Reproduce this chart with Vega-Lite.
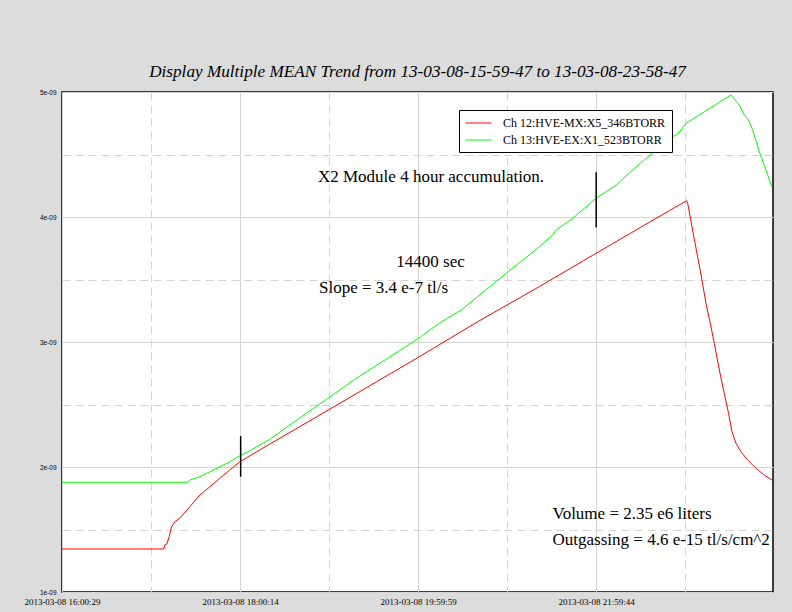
{
  "$schema": "https://vega.github.io/schema/vega-lite/v6.json",
  "width": 711,
  "height": 500,
  "autosize": "none",
  "padding": {"left": 62, "top": 92, "right": 19, "bottom": 20},
  "background": "#dcdcdc",
  "config": {"view": {"fill": "white", "stroke": "black", "strokeWidth": 1.5}, "font": "Liberation Serif"},
  "title": {"text": "Display Multiple MEAN Trend from 13-03-08-15-59-47 to 13-03-08-23-58-47", "font": "Liberation Serif", "fontStyle": "italic", "fontWeight": "normal", "fontSize": 17.2, "color": "black", "anchor": "middle", "offset": 15, "dy": 20, "baseline": "alphabetic"},
  "datasets": {
    "series": [
      {"channel": "Ch 12:HVE-MX:X5_346BTORR", "time": "2013-03-08T16:00:29", "pressure": 1.344e-9},
      {"channel": "Ch 12:HVE-MX:X5_346BTORR", "time": "2013-03-08T17:09:00", "pressure": 1.344e-9},
      {"channel": "Ch 12:HVE-MX:X5_346BTORR", "time": "2013-03-08T17:09:30", "pressure": 1.376e-9},
      {"channel": "Ch 12:HVE-MX:X5_346BTORR", "time": "2013-03-08T17:11:00", "pressure": 1.384e-9},
      {"channel": "Ch 12:HVE-MX:X5_346BTORR", "time": "2013-03-08T17:12:35", "pressure": 1.442e-9},
      {"channel": "Ch 12:HVE-MX:X5_346BTORR", "time": "2013-03-08T17:14:11", "pressure": 1.522e-9},
      {"channel": "Ch 12:HVE-MX:X5_346BTORR", "time": "2013-03-08T17:16:23", "pressure": 1.562e-9},
      {"channel": "Ch 12:HVE-MX:X5_346BTORR", "time": "2013-03-08T17:19:47", "pressure": 1.592e-9},
      {"channel": "Ch 12:HVE-MX:X5_346BTORR", "time": "2013-03-08T17:26:29", "pressure": 1.682e-9},
      {"channel": "Ch 12:HVE-MX:X5_346BTORR", "time": "2013-03-08T17:33:13", "pressure": 1.776e-9},
      {"channel": "Ch 12:HVE-MX:X5_346BTORR", "time": "2013-03-08T17:39:59", "pressure": 1.842e-9},
      {"channel": "Ch 12:HVE-MX:X5_346BTORR", "time": "2013-03-08T17:46:41", "pressure": 1.910e-9},
      {"channel": "Ch 12:HVE-MX:X5_346BTORR", "time": "2013-03-08T17:53:23", "pressure": 1.976e-9},
      {"channel": "Ch 12:HVE-MX:X5_346BTORR", "time": "2013-03-08T18:00:05", "pressure": 2.042e-9},
      {"channel": "Ch 12:HVE-MX:X5_346BTORR", "time": "2013-03-08T18:20:17", "pressure": 2.184e-9},
      {"channel": "Ch 12:HVE-MX:X5_346BTORR", "time": "2013-03-08T18:40:23", "pressure": 2.322e-9},
      {"channel": "Ch 12:HVE-MX:X5_346BTORR", "time": "2013-03-08T19:20:47", "pressure": 2.603e-9},
      {"channel": "Ch 12:HVE-MX:X5_346BTORR", "time": "2013-03-08T19:59:41", "pressure": 2.874e-9},
      {"channel": "Ch 12:HVE-MX:X5_346BTORR", "time": "2013-03-08T20:40:23", "pressure": 3.164e-9},
      {"channel": "Ch 12:HVE-MX:X5_346BTORR", "time": "2013-03-08T21:21:41", "pressure": 3.444e-9},
      {"channel": "Ch 12:HVE-MX:X5_346BTORR", "time": "2013-03-08T22:01:59", "pressure": 3.725e-9},
      {"channel": "Ch 12:HVE-MX:X5_346BTORR", "time": "2013-03-08T22:35:35", "pressure": 3.958e-9},
      {"channel": "Ch 12:HVE-MX:X5_346BTORR", "time": "2013-03-08T22:49:05", "pressure": 4.051e-9},
      {"channel": "Ch 12:HVE-MX:X5_346BTORR", "time": "2013-03-08T23:00:41", "pressure": 4.130e-9},
      {"channel": "Ch 12:HVE-MX:X5_346BTORR", "time": "2013-03-08T23:01:23", "pressure": 4.110e-9},
      {"channel": "Ch 12:HVE-MX:X5_346BTORR", "time": "2013-03-08T23:04:41", "pressure": 3.896e-9},
      {"channel": "Ch 12:HVE-MX:X5_346BTORR", "time": "2013-03-08T23:08:05", "pressure": 3.682e-9},
      {"channel": "Ch 12:HVE-MX:X5_346BTORR", "time": "2013-03-08T23:11:00", "pressure": 3.496e-9},
      {"channel": "Ch 12:HVE-MX:X5_346BTORR", "time": "2013-03-08T23:13:41", "pressure": 3.310e-9},
      {"channel": "Ch 12:HVE-MX:X5_346BTORR", "time": "2013-03-08T23:16:35", "pressure": 3.150e-9},
      {"channel": "Ch 12:HVE-MX:X5_346BTORR", "time": "2013-03-08T23:19:17", "pressure": 2.990e-9},
      {"channel": "Ch 12:HVE-MX:X5_346BTORR", "time": "2013-03-08T23:22:41", "pressure": 2.776e-9},
      {"channel": "Ch 12:HVE-MX:X5_346BTORR", "time": "2013-03-08T23:25:59", "pressure": 2.590e-9},
      {"channel": "Ch 12:HVE-MX:X5_346BTORR", "time": "2013-03-08T23:28:53", "pressure": 2.430e-9},
      {"channel": "Ch 12:HVE-MX:X5_346BTORR", "time": "2013-03-08T23:31:11", "pressure": 2.282e-9},
      {"channel": "Ch 12:HVE-MX:X5_346BTORR", "time": "2013-03-08T23:33:53", "pressure": 2.190e-9},
      {"channel": "Ch 12:HVE-MX:X5_346BTORR", "time": "2013-03-08T23:37:17", "pressure": 2.122e-9},
      {"channel": "Ch 12:HVE-MX:X5_346BTORR", "time": "2013-03-08T23:41:41", "pressure": 2.056e-9},
      {"channel": "Ch 12:HVE-MX:X5_346BTORR", "time": "2013-03-08T23:47:17", "pressure": 1.990e-9},
      {"channel": "Ch 12:HVE-MX:X5_346BTORR", "time": "2013-03-08T23:52:53", "pressure": 1.936e-9},
      {"channel": "Ch 12:HVE-MX:X5_346BTORR", "time": "2013-03-08T23:58:05", "pressure": 1.896e-9},
      {"channel": "Ch 13:HVE-EX:X1_523BTORR", "time": "2013-03-08T16:00:29", "pressure": 1.878e-9},
      {"channel": "Ch 13:HVE-EX:X1_523BTORR", "time": "2013-03-08T17:25:23", "pressure": 1.878e-9},
      {"channel": "Ch 13:HVE-EX:X1_523BTORR", "time": "2013-03-08T17:26:29", "pressure": 1.896e-9},
      {"channel": "Ch 13:HVE-EX:X1_523BTORR", "time": "2013-03-08T17:33:13", "pressure": 1.922e-9},
      {"channel": "Ch 13:HVE-EX:X1_523BTORR", "time": "2013-03-08T17:39:59", "pressure": 1.962e-9},
      {"channel": "Ch 13:HVE-EX:X1_523BTORR", "time": "2013-03-08T17:46:41", "pressure": 2.002e-9},
      {"channel": "Ch 13:HVE-EX:X1_523BTORR", "time": "2013-03-08T17:53:23", "pressure": 2.042e-9},
      {"channel": "Ch 13:HVE-EX:X1_523BTORR", "time": "2013-03-08T18:00:05", "pressure": 2.090e-9},
      {"channel": "Ch 13:HVE-EX:X1_523BTORR", "time": "2013-03-08T18:06:47", "pressure": 2.130e-9},
      {"channel": "Ch 13:HVE-EX:X1_523BTORR", "time": "2013-03-08T18:13:35", "pressure": 2.176e-9},
      {"channel": "Ch 13:HVE-EX:X1_523BTORR", "time": "2013-03-08T18:20:17", "pressure": 2.222e-9},
      {"channel": "Ch 13:HVE-EX:X1_523BTORR", "time": "2013-03-08T18:40:23", "pressure": 2.392e-9},
      {"channel": "Ch 13:HVE-EX:X1_523BTORR", "time": "2013-03-08T19:00:35", "pressure": 2.560e-9},
      {"channel": "Ch 13:HVE-EX:X1_523BTORR", "time": "2013-03-08T19:20:47", "pressure": 2.728e-9},
      {"channel": "Ch 13:HVE-EX:X1_523BTORR", "time": "2013-03-08T19:40:53", "pressure": 2.880e-9},
      {"channel": "Ch 13:HVE-EX:X1_523BTORR", "time": "2013-03-08T19:59:41", "pressure": 3.024e-9},
      {"channel": "Ch 13:HVE-EX:X1_523BTORR", "time": "2013-03-08T20:14:29", "pressure": 3.152e-9},
      {"channel": "Ch 13:HVE-EX:X1_523BTORR", "time": "2013-03-08T20:29:05", "pressure": 3.256e-9},
      {"channel": "Ch 13:HVE-EX:X1_523BTORR", "time": "2013-03-08T20:59:17", "pressure": 3.550e-9},
      {"channel": "Ch 13:HVE-EX:X1_523BTORR", "time": "2013-03-08T21:21:41", "pressure": 3.762e-9},
      {"channel": "Ch 13:HVE-EX:X1_523BTORR", "time": "2013-03-08T21:30:29", "pressure": 3.856e-9},
      {"channel": "Ch 13:HVE-EX:X1_523BTORR", "time": "2013-03-08T21:32:53", "pressure": 3.896e-9},
      {"channel": "Ch 13:HVE-EX:X1_523BTORR", "time": "2013-03-08T21:44:05", "pressure": 3.990e-9},
      {"channel": "Ch 13:HVE-EX:X1_523BTORR", "time": "2013-03-08T21:59:47", "pressure": 4.150e-9},
      {"channel": "Ch 13:HVE-EX:X1_523BTORR", "time": "2013-03-08T22:13:17", "pressure": 4.256e-9},
      {"channel": "Ch 13:HVE-EX:X1_523BTORR", "time": "2013-03-08T22:26:41", "pressure": 4.402e-9},
      {"channel": "Ch 13:HVE-EX:X1_523BTORR", "time": "2013-03-08T22:37:53", "pressure": 4.514e-9},
      {"channel": "Ch 13:HVE-EX:X1_523BTORR", "time": "2013-03-08T22:51:17", "pressure": 4.642e-9},
      {"channel": "Ch 13:HVE-EX:X1_523BTORR", "time": "2013-03-08T22:53:35", "pressure": 4.656e-9},
      {"channel": "Ch 13:HVE-EX:X1_523BTORR", "time": "2013-03-08T22:56:53", "pressure": 4.696e-9},
      {"channel": "Ch 13:HVE-EX:X1_523BTORR", "time": "2013-03-08T23:00:17", "pressure": 4.750e-9},
      {"channel": "Ch 13:HVE-EX:X1_523BTORR", "time": "2013-03-08T23:30:29", "pressure": 4.976e-9},
      {"channel": "Ch 13:HVE-EX:X1_523BTORR", "time": "2013-03-08T23:36:05", "pressure": 4.896e-9},
      {"channel": "Ch 13:HVE-EX:X1_523BTORR", "time": "2013-03-08T23:39:29", "pressure": 4.816e-9},
      {"channel": "Ch 13:HVE-EX:X1_523BTORR", "time": "2013-03-08T23:42:23", "pressure": 4.776e-9},
      {"channel": "Ch 13:HVE-EX:X1_523BTORR", "time": "2013-03-08T23:45:05", "pressure": 4.696e-9},
      {"channel": "Ch 13:HVE-EX:X1_523BTORR", "time": "2013-03-08T23:49:35", "pressure": 4.522e-9},
      {"channel": "Ch 13:HVE-EX:X1_523BTORR", "time": "2013-03-08T23:54:05", "pressure": 4.376e-9},
      {"channel": "Ch 13:HVE-EX:X1_523BTORR", "time": "2013-03-08T23:58:05", "pressure": 4.238e-9}
    ],
    "markers": [
      {"time": "2013-03-08T18:00:40", "top": 2.248e-9, "bottom": 1.922e-9},
      {"time": "2013-03-08T21:59:50", "top": 4.358e-9, "bottom": 3.918e-9}
    ],
    "notes": [
      {"time": "2013-03-08T18:52:41", "pressure": 4.282e-9, "label": "X2 Module 4 hour accumulation."},
      {"time": "2013-03-08T19:45:23", "pressure": 3.602e-9, "label": "14400 sec"},
      {"time": "2013-03-08T18:53:23", "pressure": 3.390e-9, "label": "Slope = 3.4 e-7 tl/s"},
      {"time": "2013-03-08T21:30:29", "pressure": 1.584e-9, "label": "Volume = 2.35 e6 liters"},
      {"time": "2013-03-08T21:30:29", "pressure": 1.376e-9, "label": "Outgassing = 4.6 e-15 tl/s/cm^2"}
    ]
  },
  "layer": [
    {
      "data": {"name": "series"},
      "mark": {"type": "line", "strokeWidth": 1, "clip": true},
      "encoding": {
        "x": {
          "field": "time", "type": "temporal", "title": null,
          "scale": {"domain": [
            {"year": 2013, "month": 3, "date": 8, "hours": 16, "minutes": 0, "seconds": 29},
            {"year": 2013, "month": 3, "date": 8, "hours": 23, "minutes": 58, "seconds": 47}
          ]},
          "axis": {
            "values": [
              {"year": 2013, "month": 3, "date": 8, "hours": 16, "minutes": 0, "seconds": 29},
              {"year": 2013, "month": 3, "date": 8, "hours": 17, "minutes": 0, "seconds": 21, "milliseconds": 500},
              {"year": 2013, "month": 3, "date": 8, "hours": 18, "minutes": 0, "seconds": 14},
              {"year": 2013, "month": 3, "date": 8, "hours": 19, "minutes": 0, "seconds": 6, "milliseconds": 500},
              {"year": 2013, "month": 3, "date": 8, "hours": 19, "minutes": 59, "seconds": 59},
              {"year": 2013, "month": 3, "date": 8, "hours": 20, "minutes": 59, "seconds": 51, "milliseconds": 500},
              {"year": 2013, "month": 3, "date": 8, "hours": 21, "minutes": 59, "seconds": 44},
              {"year": 2013, "month": 3, "date": 8, "hours": 22, "minutes": 59, "seconds": 36, "milliseconds": 500}
            ],
            "labelExpr": "abs((datum.value - datetime(2013,2,8,16,0,29)) % 7185000) < 1000 ? timeFormat(datum.value, '%Y-%m-%d %H:%M:%S') : ''",
            "gridDash": {"condition": {"test": "abs((datum.value - datetime(2013,2,8,16,0,29)) % 7185000) > 1000", "value": [8, 5]}, "value": []},
            "gridColor": "#d4d4d4",
            "domain": false,
            "ticks": false,
            "tickSize": 0,
            "labelPadding": 12,
            "labelBaseline": "alphabetic",
            "labelFont": "Liberation Serif",
            "labelFontSize": 9,
            "labelColor": "black",
            "labelOverlap": false,
            "labelFlush": false,
            "labelBound": false
          }
        },
        "y": {
          "field": "pressure", "type": "quantitative", "title": null,
          "scale": {"domain": [1e-9, 5e-9], "zero": false, "nice": false},
          "axis": {
            "values": [1e-9, 1.5e-9, 2e-9, 2.5e-9, 3e-9, 3.5e-9, 4e-9, 4.5e-9, 5e-9],
            "labelExpr": "abs(datum.value*1e9 - round(datum.value*1e9)) < 0.01 ? round(datum.value*1e9) + 'e-09' : ''",
            "gridDash": {"condition": {"test": "abs(datum.value*1e9 - round(datum.value*1e9)) > 0.01", "value": [8, 5]}, "value": []},
            "gridColor": "#d4d4d4",
            "domain": false,
            "ticks": false,
            "tickSize": 0,
            "labelPadding": 6,
            "labelFont": "Liberation Sans",
            "labelFontSize": 6.5,
            "labelColor": "black"
          }
        },
        "color": {
          "field": "channel", "type": "nominal",
          "scale": {"domain": ["Ch 12:HVE-MX:X5_346BTORR", "Ch 13:HVE-EX:X1_523BTORR"], "range": ["#ff0000", "#00ff00"]},
          "legend": {
            "title": null,
            "orient": "none",
            "legendX": 397,
            "legendY": 18,
            "symbolType": "M-1,0H3",
            "symbolSize": 169,
            "symbolStrokeWidth": 1,
            "labelFont": "Liberation Serif",
            "labelFontSize": 12,
            "labelColor": "black",
            "labelLimit": 0,
            "labelOffset": 24,
            "padding": 6,
            "rowPadding": 4,
            "strokeColor": "black",
            "fillColor": "white",
            "cornerRadius": 0
          }
        }
      }
    },
    {
      "data": {"name": "markers"},
      "mark": {"type": "rule", "color": "black", "strokeWidth": 1.5},
      "encoding": {
        "x": {"field": "time", "type": "temporal"},
        "y": {"field": "top", "type": "quantitative"},
        "y2": {"field": "bottom"}
      }
    },
    {
      "data": {"name": "notes"},
      "mark": {"type": "text", "align": "left", "baseline": "alphabetic", "font": "Liberation Serif", "fontSize": 17, "color": "black"},
      "encoding": {
        "x": {"field": "time", "type": "temporal"},
        "y": {"field": "pressure", "type": "quantitative"},
        "text": {"field": "label"}
      }
    }
  ]
}
